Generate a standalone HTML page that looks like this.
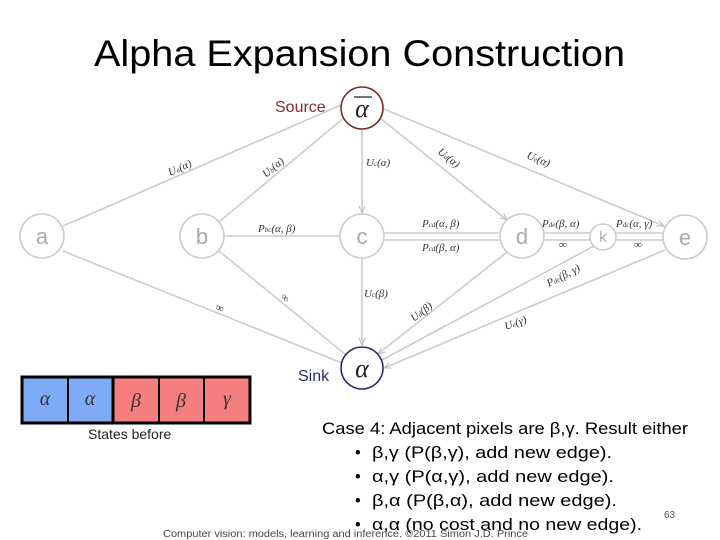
<!DOCTYPE html>
<html><head><meta charset="utf-8"><style>
html,body{margin:0;padding:0;background:#fff;width:720px;height:540px;overflow:hidden}
svg{display:block}
.m{font-family:"Liberation Serif",serif;font-style:italic;font-size:11px;fill:#333}
.n{font-family:"Liberation Sans",sans-serif;font-size:22px;fill:#aaa}
.t{font-family:"Liberation Sans",sans-serif;font-size:16.5px;fill:#000}
</style></head><body>
<svg width="720" height="540" viewBox="0 0 720 540" xmlns="http://www.w3.org/2000/svg">
<defs><marker id="ar" markerWidth="8" markerHeight="8" refX="7" refY="4" orient="auto" markerUnits="userSpaceOnUse"><path d="M0,1 L7,4 L0,7" fill="none" stroke="#bbb" stroke-width="1"/></marker></defs>
<text x="94" y="66" font-family="Liberation Sans,sans-serif" font-size="37" textLength="531" lengthAdjust="spacingAndGlyphs" fill="#000">Alpha Expansion Construction</text>
<g stroke="#ccc" stroke-width="1.6" fill="none">
<line x1="63" y1="226" x2="341" y2="105"/>
<line x1="219" y1="222" x2="345" y2="117"/>
<line x1="362" y1="130" x2="362" y2="213" marker-end="url(#ar)"/>
<line x1="380" y1="118" x2="507" y2="220" marker-end="url(#ar)"/>
<line x1="384" y1="109" x2="664" y2="226" marker-end="url(#ar)"/>
<line x1="224" y1="236" x2="340" y2="236"/>
<line x1="384" y1="233" x2="499" y2="233"/>
<line x1="384" y1="240" x2="499" y2="240"/>
<line x1="544" y1="233" x2="590" y2="233"/>
<line x1="544" y1="240" x2="590" y2="240"/>
<line x1="616" y1="233" x2="663" y2="233"/>
<line x1="616" y1="240" x2="663" y2="240"/>
<line x1="63" y1="251" x2="342" y2="363"/>
<line x1="219" y1="251" x2="346" y2="355"/>
<line x1="362" y1="258" x2="362" y2="345" marker-end="url(#ar)"/>
<line x1="507" y1="252" x2="378" y2="354" marker-end="url(#ar)"/>
<line x1="594" y1="246" x2="382" y2="360"/>
<line x1="665" y1="250" x2="384" y2="368" marker-end="url(#ar)"/>
</g>
<g fill="#fff" stroke="#ccc" stroke-width="1.6">
<circle cx="42" cy="236" r="22"/><circle cx="202" cy="236" r="22"/><circle cx="362" cy="236" r="22"/>
<circle cx="522" cy="236" r="22"/><circle cx="603" cy="237" r="13"/><circle cx="685" cy="237" r="22"/>
</g>
<circle cx="362" cy="108" r="21" fill="#fff" stroke="#7a2a2a" stroke-width="1.6"/>
<circle cx="362" cy="368" r="21" fill="#fff" stroke="#2a2a6a" stroke-width="1.6"/>
<g class="n" text-anchor="middle">
<text x="42" y="244">a</text><text x="202" y="244">b</text><text x="362" y="244">c</text><text x="522" y="244">d</text><text x="603" y="242" font-size="15">k</text><text x="685" y="245">e</text>
</g>
<line x1="354" y1="97" x2="372" y2="97" stroke="#222" stroke-width="1.2"/>
<text x="362" y="117" text-anchor="middle" font-family="Liberation Serif,serif" font-style="italic" font-size="26" fill="#222">α</text>
<text x="362" y="377" text-anchor="middle" font-family="Liberation Serif,serif" font-style="italic" font-size="26" fill="#222">α</text>
<text x="275" y="112" font-family="Liberation Sans,sans-serif" font-size="16" fill="#8b2b2b">Source</text>
<text x="298" y="381" font-family="Liberation Sans,sans-serif" font-size="16" fill="#2a2a6a">Sink</text>
<text class="m" transform="translate(170,176) rotate(-24)">U<tspan font-size="7">a</tspan>(α)</text>
<text class="m" transform="translate(266,178) rotate(-40)">U<tspan font-size="7">b</tspan>(α)</text>
<text class="m" x="366" y="166">U<tspan font-size="7">c</tspan>(α)</text>
<text class="m" transform="translate(437,153) rotate(38)">U<tspan font-size="7">d</tspan>(α)</text>
<text class="m" transform="translate(526,158) rotate(22)">U<tspan font-size="7">e</tspan>(α)</text>
<text class="m" x="258" y="232">P<tspan font-size="7">bc</tspan>(α, β)</text>
<text class="m" x="422" y="227">P<tspan font-size="7">cd</tspan>(α, β)</text>
<text class="m" x="422" y="251">P<tspan font-size="7">cd</tspan>(β, α)</text>
<text class="m" x="542" y="227">P<tspan font-size="7">de</tspan>(β, α)</text>
<text class="m" x="616" y="227">P<tspan font-size="7">dc</tspan>(α, γ)</text>
<text class="m" x="559" y="248" font-size="13">∞</text>
<text class="m" x="634" y="248" font-size="13">∞</text>
<text class="m" transform="translate(549,287) rotate(-28)">P<tspan font-size="7">de</tspan>(β, γ)</text>
<text class="m" x="364" y="297">U<tspan font-size="7">c</tspan>(β)</text>
<text class="m" transform="translate(414,322) rotate(-38)">U<tspan font-size="7">d</tspan>(β)</text>
<text class="m" transform="translate(506,330) rotate(-20)">U<tspan font-size="7">e</tspan>(γ)</text>
<text class="m" transform="translate(215,310) rotate(20)" font-size="13">∞</text>
<text class="m" transform="translate(280,297) rotate(50)" font-size="13">∞</text>
<g stroke="#000" stroke-width="3">
<rect x="22" y="377" width="91" height="46" fill="#7faaf5"/>
<rect x="113" y="377" width="137" height="46" fill="#f57f7f"/>
<line x1="68" y1="377" x2="68" y2="423" stroke-width="2"/>
<line x1="113" y1="377" x2="113" y2="423" stroke-width="2"/>
<line x1="159" y1="377" x2="159" y2="423" stroke-width="2"/>
<line x1="204" y1="377" x2="204" y2="423" stroke-width="2"/>
</g>
<g font-family="Liberation Serif,serif" font-style="italic" font-size="20" fill="#333" text-anchor="middle">
<text x="45" y="405">α</text><text x="90" y="405">α</text><text x="136" y="407">β</text><text x="181" y="407">β</text><text x="227" y="405">γ</text>
</g>
<text x="88" y="439" font-family="Liberation Sans,sans-serif" font-size="14" fill="#222">States before</text>
<text class="t" x="322" y="434" textLength="366" lengthAdjust="spacingAndGlyphs">Case 4:  Adjacent pixels are β,γ.  Result either</text>
<g class="t">
<text x="355" y="458">•</text><text x="372" y="458" textLength="240" lengthAdjust="spacingAndGlyphs">β,γ (P(β,γ), add new edge).</text>
<text x="355" y="482">•</text><text x="372" y="482" textLength="242" lengthAdjust="spacingAndGlyphs">α,γ (P(α,γ), add new edge).</text>
<text x="355" y="506">•</text><text x="372" y="506" textLength="245" lengthAdjust="spacingAndGlyphs">β,α (P(β,α), add new edge).</text>
<text x="355" y="530">•</text><text x="372" y="530" textLength="270" lengthAdjust="spacingAndGlyphs">α,α (no cost and no new edge).</text>
</g>
<text x="163" y="537" font-family="Liberation Sans,sans-serif" font-size="10" fill="#444" textLength="365" lengthAdjust="spacingAndGlyphs">Computer vision: models, learning and inference.  ©2011 Simon J.D. Prince</text>
<text x="664" y="518" font-family="Liberation Sans,sans-serif" font-size="10" fill="#555">63</text>
</svg>
</body></html>
